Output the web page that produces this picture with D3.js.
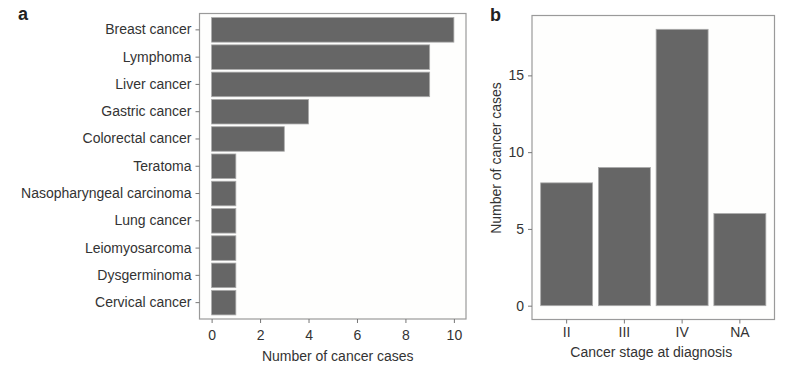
<!DOCTYPE html>
<html><head><meta charset="utf-8">
<script src="https://cdn.jsdelivr.net/npm/d3@7"></script>
<style>body{margin:0;background:#fff}svg{display:block}text{font-family:"Liberation Sans",Arial,sans-serif}</style>
</head><body><svg id="c" width="788" height="368"></svg>
<script>
const cancerTypes = ["Breast cancer","Lymphoma","Liver cancer","Gastric cancer","Colorectal cancer","Teratoma","Nasopharyngeal carcinoma","Lung cancer","Leiomyosarcoma","Dysgerminoma","Cervical cancer"];
const cancerCounts = [10,9,9,4,3,1,1,1,1,1,1];
const xTicksA = [0,2,4,6,8,10];
const stages = ["II","III","IV","NA"];
const stageCounts = [8,9,18,6];
const yTicksB = [0,5,10,15];

const svg = d3.select("#c");
const barFill = "#666666", barStroke = "#aaaaaa", frame = "#9a9a9a", txt = "#333";
const fs = 14;

// Panel a
const A = {l:199.5, r:466, t:13.5, b:319};
const xa = d3.scaleLinear().domain([-0.5,10.5]).range([A.l,A.r]);
const ya = d3.scaleBand().domain(cancerTypes).range([A.t,A.b]).paddingInner(0.1).paddingOuter(0.15);
const ga = svg.append("g");
ga.append("rect").attr("x",A.l).attr("y",A.t).attr("width",A.r-A.l).attr("height",A.b-A.t).attr("fill","#fefefd");
ga.selectAll("rect.bar").data(cancerTypes).join("rect").attr("class","bar")
  .attr("x",xa(0)).attr("y",d=>ya(d)).attr("width",(d,i)=>xa(cancerCounts[i])-xa(0)).attr("height",ya.bandwidth())
  .attr("fill",barFill).attr("stroke",barStroke).attr("stroke-width",0.8);
ga.append("rect").attr("x",A.l).attr("y",A.t).attr("width",A.r-A.l).attr("height",A.b-A.t).attr("fill","none").attr("stroke",frame).attr("stroke-width",1.2);
const axA = ga.append("g").attr("transform",`translate(0,${A.b})`).call(d3.axisBottom(xa).tickValues(xTicksA).tickSize(4).tickPadding(7));
const ayA = ga.append("g").attr("transform",`translate(${A.l},0)`).call(d3.axisLeft(ya).tickSize(4).tickPadding(4));
[axA,ayA].forEach(g=>{g.select(".domain").remove();g.selectAll("line").attr("stroke","#777");g.selectAll("text").attr("fill",txt).style("font-size",fs+"px");});
ga.append("text").attr("x",(A.l+A.r)/2+5).attr("y",361).attr("text-anchor","middle").attr("fill",txt).style("font-size",fs+"px").text("Number of cancer cases");
svg.append("text").attr("x",18).attr("y",20).attr("fill","#222").style("font-size","18px").style("font-weight","bold").text("a");

// Panel b
const B = {l:532, r:774.5, t:15.5, b:319.5};
const yb = d3.scaleLinear().domain([-0.9,18.9]).range([B.b,B.t]);
const xb = d3.scaleBand().domain(stages).range([B.l,B.r]).paddingInner(0.1).paddingOuter(0.15);
const gb = svg.append("g");
gb.append("rect").attr("x",B.l).attr("y",B.t).attr("width",B.r-B.l).attr("height",B.b-B.t).attr("fill","#fefefd");
gb.selectAll("rect.bar").data(stages).join("rect").attr("class","bar")
  .attr("x",d=>xb(d)).attr("y",(d,i)=>yb(stageCounts[i])).attr("width",xb.bandwidth()).attr("height",(d,i)=>yb(0)-yb(stageCounts[i]))
  .attr("fill",barFill).attr("stroke",barStroke).attr("stroke-width",0.8);
gb.append("rect").attr("x",B.l).attr("y",B.t).attr("width",B.r-B.l).attr("height",B.b-B.t).attr("fill","none").attr("stroke",frame).attr("stroke-width",1.2);
const axB = gb.append("g").attr("transform",`translate(0,${B.b})`).call(d3.axisBottom(xb).tickSize(4).tickPadding(4));
const ayB = gb.append("g").attr("transform",`translate(${B.l},0)`).call(d3.axisLeft(yb).tickValues(yTicksB).tickSize(4).tickPadding(4));
[axB,ayB].forEach(g=>{g.select(".domain").remove();g.selectAll("line").attr("stroke","#777");g.selectAll("text").attr("fill",txt).style("font-size",fs+"px");});
gb.append("text").attr("x",(B.l+B.r)/2-2).attr("y",357).attr("text-anchor","middle").attr("fill",txt).style("font-size",fs+"px").text("Cancer stage at diagnosis");
gb.append("text").attr("transform",`translate(501,${158}) rotate(-90)`).attr("text-anchor","middle").attr("fill",txt).style("font-size",fs+"px").text("Number of cancer cases");
svg.append("text").attr("x",490).attr("y",21).attr("fill","#222").style("font-size","18px").style("font-weight","bold").text("b");
</script></body></html>
